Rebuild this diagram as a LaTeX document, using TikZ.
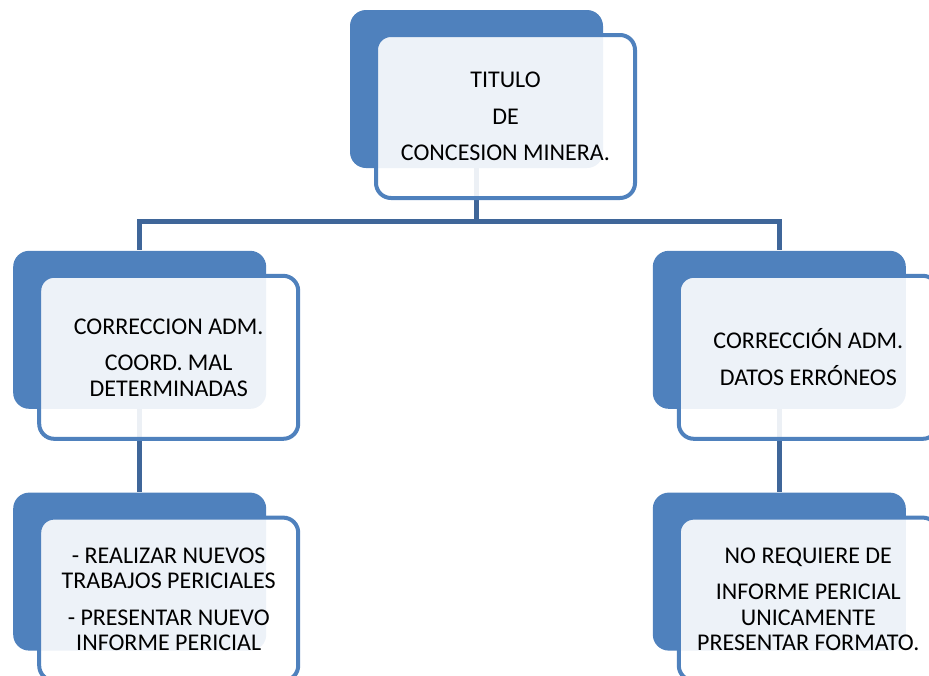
\documentclass[tikz,border=0pt]{standalone}
\usepackage{fontspec}
\setmainfont{Carlito}
\usepackage{tikz}
\usetikzlibrary{positioning}
\definecolor{smblue}{HTML}{4F81BD}
\definecolor{smline}{HTML}{3F6699}

\begin{document}
\begin{tikzpicture}[
  back/.style={fill=smblue, rounded corners=8pt, minimum width=126.5pt, minimum height=79pt, inner sep=0pt},
  front/.style={draw=smblue, line width=2pt, fill=white, fill opacity=0.9, text opacity=1, rounded corners=7.5pt, minimum width=129.5pt, minimum height=81.5pt, inner sep=0pt, align=center, font=\fontsize{12}{12.75}\selectfont},
  conn/.style={draw=smline, line width=2.4pt},
]
\useasboundingbox (0,0) rectangle (464.5pt,-337.5pt);

% --- Back boxes ---
\node[back] (titB) at (238.25pt,-44.5pt) {};
\node[back, below left=41pt and 41.5pt of titB] (corrB) {};
\node[back, below right=41pt and 24.5pt of titB] (datB) {};
\node[back, below=41.5pt of corrB] (perB) {};
\node[back, below=41.5pt of datB] (forB) {};

% --- Connectors ---
\draw[conn] (titB.south) -- ++(0,-26.5pt) coordinate (bus) -| (corrB.north);
\draw[conn] (bus) -| (datB.north);
\draw[conn] (corrB.south) -- (perB.north);
\draw[conn] (datB.south) -- (forB.north);

% --- Front boxes ---
\node[front] (tit) at ([xshift=14.5pt, yshift=-13.75pt]titB.center) {TITULO\\[5.5pt]DE\\[5.5pt]CONCESION MINERA.};
\node[front] (corr) at ([xshift=14.5pt, yshift=-13.75pt]corrB.center) {CORRECCION ADM.\\[5.5pt]COORD. MAL\\DETERMINADAS};
\node[front] (dat) at ([xshift=14.5pt, yshift=-13.75pt]datB.center) {CORRECCIÓN ADM.\\[5.5pt]DATOS ERRÓNEOS};
\node[front] (per) at ([xshift=14.5pt, yshift=-13.75pt]perB.center) {- REALIZAR NUEVOS\\TRABAJOS PERICIALES\\[5.5pt]- PRESENTAR NUEVO\\INFORME PERICIAL};
\node[front] (for) at ([xshift=14.5pt, yshift=-13.75pt]forB.center) {NO REQUIERE DE\\[5.5pt]INFORME PERICIAL\\UNICAMENTE\\PRESENTAR FORMATO.};
\end{tikzpicture}
\end{document}
